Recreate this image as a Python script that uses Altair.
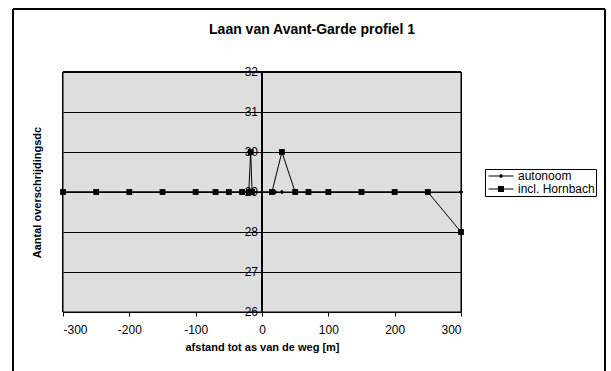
import altair as alt
import pandas as pd

# ---- data ----
series_names = ["autonoom", "incl. Hornbach"]

x_autonoom = [-300, -250, -200, -150, -100, -70, -50, -30, -20, -15, 15, 20, 30, 50, 70, 100, 150, 200, 250, 300]
y_autonoom = [29, 29, 29, 29, 29, 29, 29, 29, 29, 29, 29, 29, 29, 29, 29, 29, 29, 29, 29, 29]

x_hornbach = [-300, -250, -200, -150, -100, -70, -50, -30, -20, -17, -15, 15, 30, 50, 70, 100, 150, 200, 250, 300]
y_hornbach = [29, 29, 29, 29, 29, 29, 29, 29, 29, 30, 29, 29, 30, 29, 29, 29, 29, 29, 29, 28]

x_ticks = [-300, -200, -100, 0, 100, 200, 300]
y_ticks = [26, 27, 28, 29, 30, 31, 32]

title_text = "Laan van Avant-Garde profiel 1"
x_title = "afstand tot as van de weg [m]"
y_title = "Aantal overschrijdingsdc"

FONT = "Liberation Sans"

rows = []
for i, (x, y) in enumerate(zip(x_autonoom, y_autonoom)):
    rows.append({"series": series_names[0], "x": x, "y": y, "i": i})
for i, (x, y) in enumerate(zip(x_hornbach, y_hornbach)):
    rows.append({"series": series_names[1], "x": x, "y": y, "i": i})
df = pd.DataFrame(rows)
ticks_df = pd.DataFrame({"v": y_ticks})

xscale = alt.Scale(domain=[-300, 300], nice=False, zero=False)
yscale = alt.Scale(domain=[26, 32], nice=False, zero=False)

x_axis = alt.Axis(values=x_ticks, title=x_title, grid=False, domain=False,
                  labelExpr="'' + datum.value",
                  tickColor="black", tickSize=4, labelPadding=8,
                  labelFont=FONT, labelFontSize=12, labelColor="black",
                  titleFont=FONT, titleFontSize=11, titleFontWeight="bold",
                  titleColor="black", titlePadding=6, zindex=1)
y_axis = alt.Axis(values=y_ticks, title=y_title, grid=True, gridColor="black",
                  gridWidth=1, gridOpacity=1, labels=False, ticks=False, domain=False,
                  titleFont=FONT, titleFontSize=11, titleFontWeight="bold",
                  titleColor="black", titlePadding=21, zindex=1)

X = alt.X("x:Q", scale=xscale, axis=x_axis)
Y = alt.Y("y:Q", scale=yscale, axis=y_axis)

base = alt.Chart(df)

# plot-area background spanning the full axis ranges
plot_bg = alt.Chart(ticks_df).mark_rect(fill="#dedede", stroke="black", strokeWidth=1).encode(
    x=alt.datum(x_ticks[0], scale=xscale, axis=x_axis),
    x2=alt.datum(x_ticks[-1]),
    y=alt.datum(y_ticks[0], scale=yscale, axis=y_axis),
    y2=alt.datum(y_ticks[-1]),
)

line_a = base.transform_filter(alt.datum.series == series_names[0]).mark_line(
    color="black", strokeWidth=1).encode(x=X, y=Y, order="i:Q")
pts_a = base.transform_filter(alt.datum.series == series_names[0]).mark_point(
    shape="diamond", filled=True, color="black", size=22, opacity=1).encode(x=X, y=Y)
line_b = base.transform_filter(alt.datum.series == series_names[1]).mark_line(
    color="black", strokeWidth=1).encode(x=X, y=Y, order="i:Q")
pts_b = base.transform_filter(alt.datum.series == series_names[1]).mark_point(
    shape="square", filled=True, color="black", size=34, opacity=1).encode(x=X, y=Y)

# outer chart frame (decoration)
frame = alt.Chart(ticks_df).mark_rect(fill=None, stroke="black", strokeWidth=1).encode(
    x=alt.value(-50), x2=alt.value(542), y=alt.value(-63), y2=alt.value(330)
)

zero_rule = alt.Chart(ticks_df).mark_rule(color="black", strokeWidth=1).encode(
    x=alt.datum(0, scale=xscale, axis=x_axis)
)

ylabels = alt.Chart(ticks_df).mark_text(
    align="right", baseline="middle", dx=-4, font=FONT, fontSize=12, color="black"
).encode(
    x=alt.datum(0, scale=xscale, axis=x_axis),
    y=alt.Y("v:Q", scale=yscale, axis=y_axis),
    text=alt.Text("v:Q"),
)

legend_paths = [
    "M-2.5,-0.1H2.5V0.1H-2.5Z M0,-0.45L0.45,0L0,0.45L-0.45,0Z",
    "M-2.5,-0.1H2.5V0.1H-2.5Z M-0.6,-0.6H0.6V0.6H-0.6Z",
]
legend_layer = base.mark_point(filled=True, color="black", opacity=0).encode(
    x=X, y=Y,
    shape=alt.Shape("series:N", scale=alt.Scale(domain=series_names, range=legend_paths),
                    legend=alt.Legend(title=None, orient="none", legendX=422, legendY=97,
                                      strokeColor="black", padding=1, symbolOffset=9,
                                      symbolSize=100, symbolOpacity=1,
                                      symbolFillColor="black", labelOffset=11,
                                      labelFont=FONT, labelFontSize=12, labelColor="black",
                                      rowPadding=1, fillColor="white")),
)

chart = alt.layer(plot_bg, line_a, pts_a, line_b, pts_b, zero_rule, ylabels, legend_layer, frame).properties(
    width=398, height=240,
    title=alt.TitleParams(title_text, font=FONT, fontSize=14, fontWeight="bold",
                          color="black", anchor="middle", dx=50, offset=-28),
    autosize=alt.AutoSizeParams(type="none"),
    padding={"left": 63, "top": 72, "right": 150, "bottom": 59},
).configure_view(
    stroke="black", strokeWidth=1
).configure(background="white")

chart.save("out.html", embed_options={"renderer": "svg", "actions": False})
